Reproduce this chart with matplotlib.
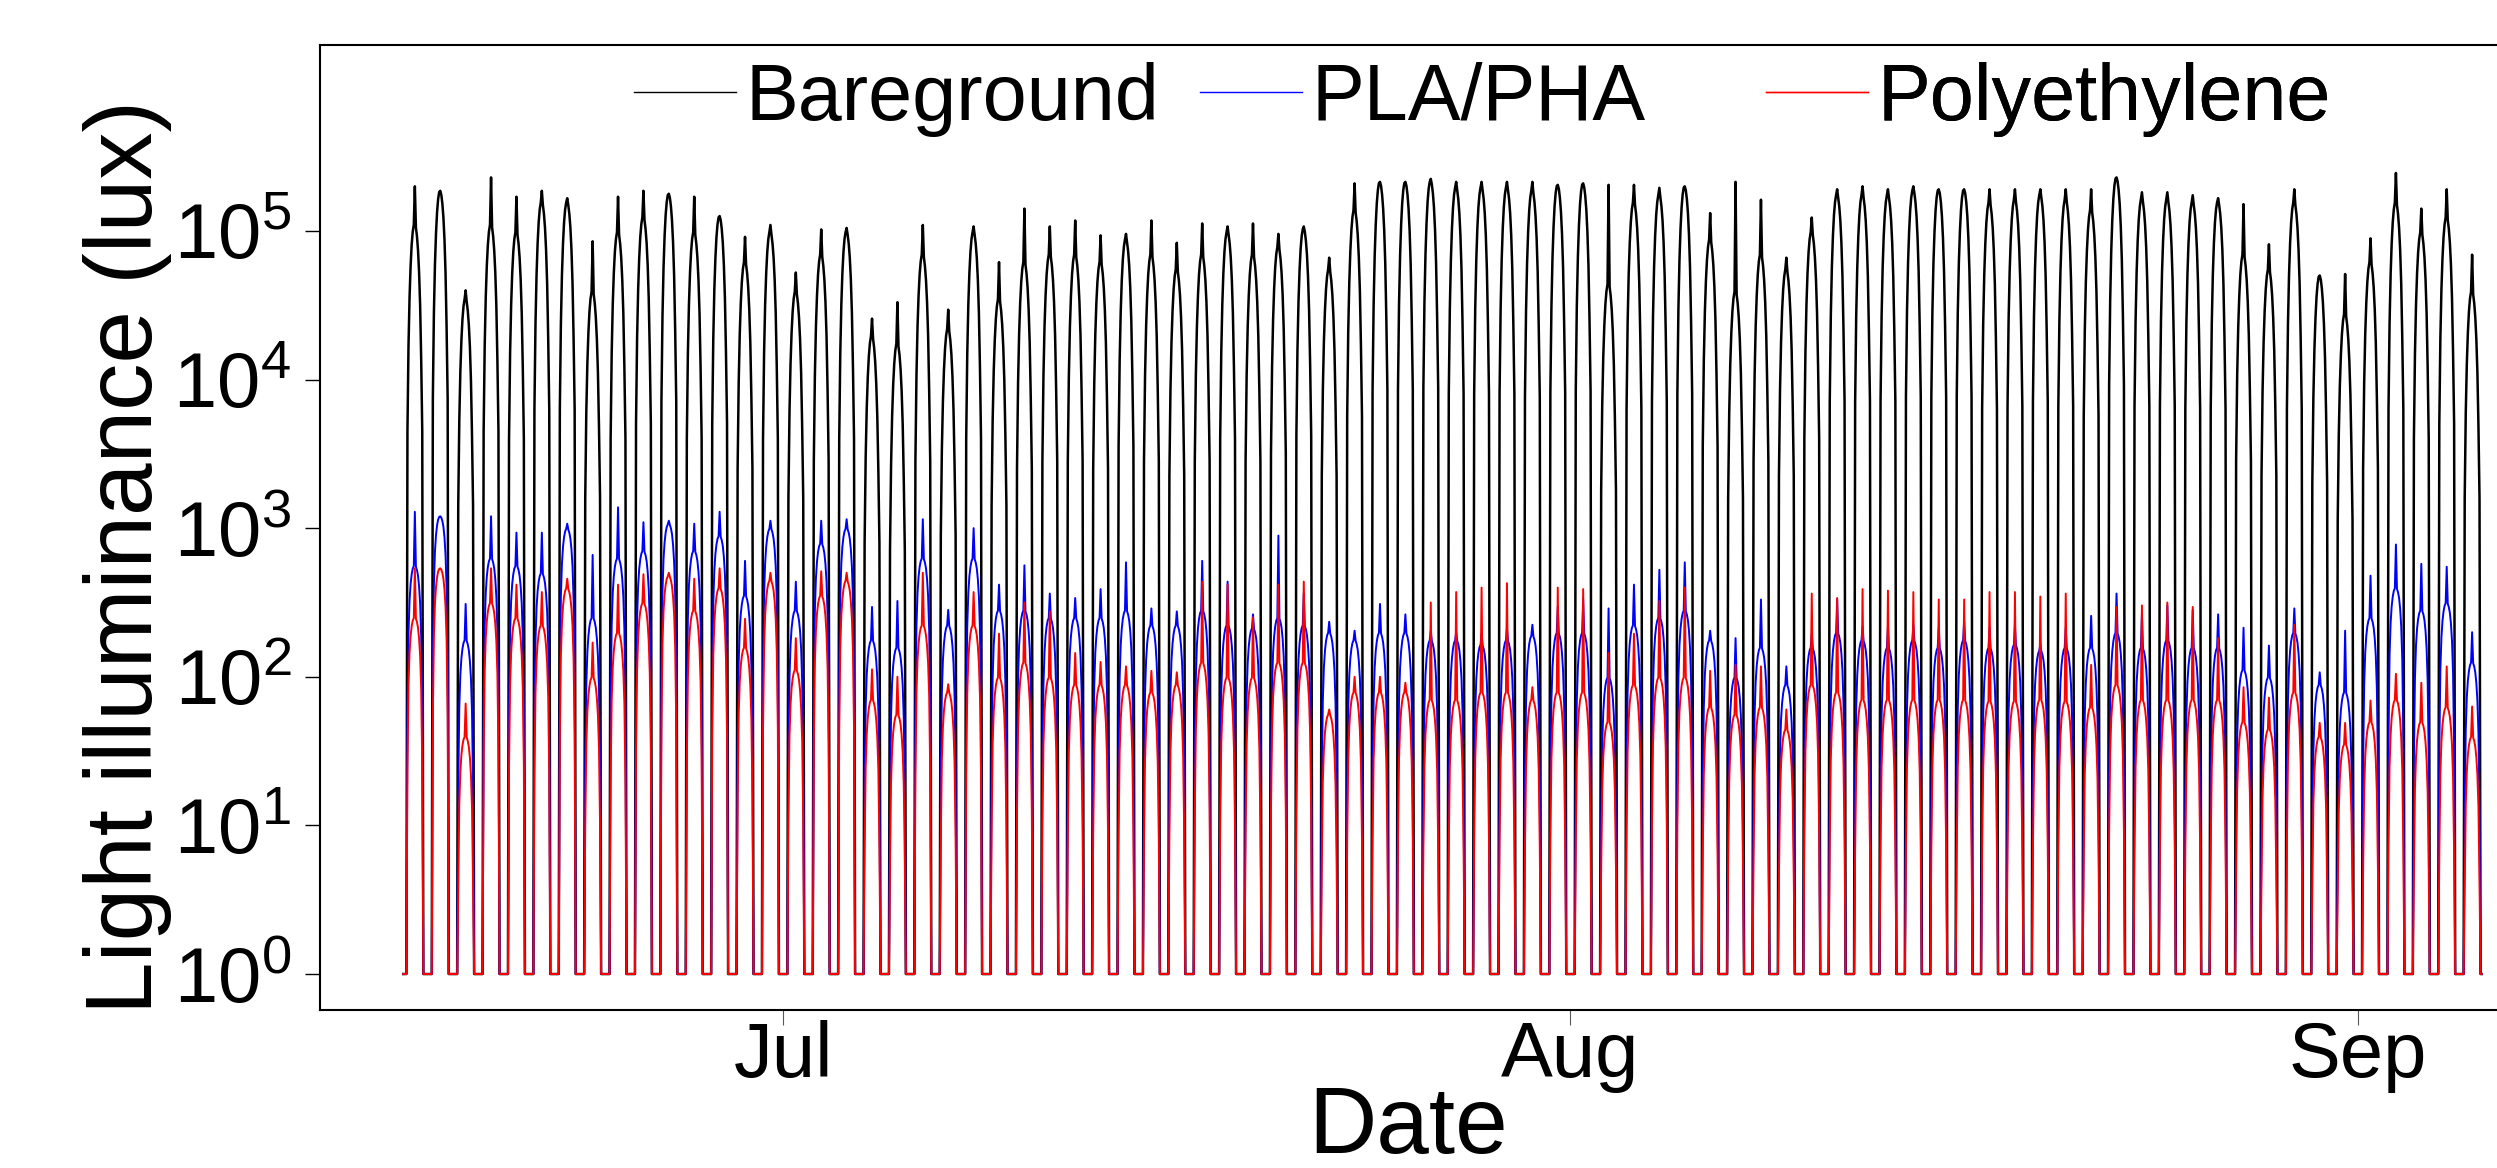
import numpy as np
import pandas as pd
import matplotlib
matplotlib.use('Agg')
import matplotlib.pyplot as plt
import matplotlib.dates as mdates
from matplotlib.ticker import NullLocator

plt.rcParams['font.family'] = ['Liberation Sans', 'DejaVu Sans']
plt.rcParams['mathtext.fontset'] = 'custom'
plt.rcParams['mathtext.rm'] = 'Liberation Sans'
plt.rcParams['axes.linewidth'] = 1.5

first_day = '2019-06-16'
n_days = 82

# log10(lux): spike maximum and typical noon level of every day, Jun 16 - Sep 5
bare_peak = [5.30, 5.27, 4.60, 5.36, 5.23, 5.27, 5.22, 4.93, 5.23, 5.27,
             5.25, 5.23, 5.10, 4.96, 5.04, 4.72, 5.01, 5.02, 4.41, 4.52,
             5.04, 4.47, 5.03, 4.79, 5.15, 5.03, 5.07, 4.97, 4.98, 5.07,
             4.92, 5.05, 5.03, 5.05, 4.98, 5.03, 4.82, 5.32, 5.33, 5.33,
             5.35, 5.33, 5.33, 5.33, 5.33, 5.31, 5.32, 5.31, 5.31, 5.29,
             5.30, 5.12, 5.33, 5.21, 4.82, 5.09, 5.28, 5.30, 5.28, 5.30,
             5.28, 5.28, 5.28, 5.28, 5.28, 5.28, 5.28, 5.36, 5.26, 5.26,
             5.24, 5.22, 5.18, 4.91, 5.28, 4.70, 4.71, 4.95, 5.39, 5.15,
             5.28, 4.84]
bare_level = [5.05, 5.27, 4.55, 5.05, 5.00, 5.20, 5.20, 4.60, 5.00, 5.10,
              5.25, 5.00, 5.10, 4.80, 5.00, 4.60, 4.85, 5.00, 4.30, 4.25,
              4.85, 4.35, 5.00, 4.55, 4.80, 4.85, 4.85, 4.80, 4.95, 4.85,
              4.75, 4.85, 5.00, 4.85, 4.90, 5.02, 4.75, 5.15, 5.33, 5.33,
              5.34, 5.30, 5.30, 5.30, 5.28, 5.31, 5.32, 4.65, 5.20, 5.25,
              5.30, 4.95, 4.60, 4.85, 4.75, 5.00, 5.25, 5.25, 5.25, 5.28,
              5.28, 5.28, 5.20, 5.22, 5.25, 5.22, 5.15, 5.36, 5.22, 5.22,
              5.20, 5.20, 4.85, 4.75, 5.20, 4.70, 4.45, 4.80, 5.20, 5.00,
              5.10, 4.60]

pla_peak = [3.11, 3.08, 2.49, 3.08, 2.97, 2.97, 3.03, 2.82, 3.14, 3.04,
            3.05, 3.03, 3.11, 2.78, 3.05, 2.64, 3.05, 3.06, 2.47, 2.51,
            3.06, 2.45, 3.00, 2.62, 2.75, 2.56, 2.53, 2.59, 2.77, 2.46,
            2.44, 2.78, 2.64, 2.42, 2.95, 2.56, 2.37, 2.31, 2.49, 2.42,
            2.31, 2.30, 2.29, 2.33, 2.35, 2.47, 2.52, 2.46, 2.62, 2.72,
            2.77, 2.31, 2.26, 2.52, 2.07, 2.29, 2.52, 2.34, 2.34, 2.35,
            2.33, 2.38, 2.33, 2.35, 2.22, 2.33, 2.41, 2.56, 2.42, 2.48,
            2.45, 2.42, 2.33, 2.21, 2.46, 2.03, 2.31, 2.68, 2.89, 2.76,
            2.74, 2.30]
pla_level = [2.75, 3.08, 2.25, 2.80, 2.75, 2.70, 3.00, 2.40, 2.80, 2.85,
             3.03, 2.85, 2.95, 2.55, 3.00, 2.45, 2.90, 3.00, 2.25, 2.20,
             2.80, 2.35, 2.80, 2.45, 2.45, 2.40, 2.40, 2.40, 2.45, 2.35,
             2.35, 2.45, 2.35, 2.33, 2.40, 2.35, 2.30, 2.25, 2.30, 2.30,
             2.25, 2.25, 2.22, 2.25, 2.28, 2.30, 2.30, 2.00, 2.35, 2.40,
             2.45, 2.25, 2.00, 2.20, 1.95, 2.20, 2.30, 2.25, 2.20, 2.25,
             2.20, 2.25, 2.20, 2.22, 2.18, 2.20, 2.20, 2.30, 2.20, 2.25,
             2.20, 2.20, 2.05, 2.00, 2.30, 1.95, 1.90, 2.40, 2.60, 2.45,
             2.50, 2.10]

pe_peak = [2.73, 2.73, 1.82, 2.73, 2.62, 2.57, 2.66, 2.23, 2.62, 2.69,
           2.70, 2.66, 2.73, 2.39, 2.70, 2.26, 2.71, 2.70, 2.05, 2.00,
           2.70, 1.95, 2.57, 2.29, 2.50, 2.44, 2.16, 2.10, 2.07, 2.04,
           2.03, 2.64, 2.62, 2.40, 2.62, 2.64, 1.78, 2.00, 2.00, 1.96,
           2.50, 2.57, 2.60, 2.63, 1.93, 2.60, 2.59, 2.16, 2.29, 2.51,
           2.60, 2.04, 2.08, 2.07, 1.78, 2.56, 2.53, 2.59, 2.58, 2.57,
           2.52, 2.52, 2.57, 2.57, 2.54, 2.56, 2.08, 2.47, 2.48, 2.50,
           2.47, 2.26, 1.93, 1.86, 2.35, 1.69, 1.69, 1.84, 2.02, 1.96,
           2.07, 1.80]
pe_level = [2.40, 2.73, 1.60, 2.50, 2.40, 2.35, 2.60, 2.00, 2.30, 2.50,
            2.68, 2.45, 2.60, 2.20, 2.65, 2.05, 2.55, 2.65, 1.85, 1.75,
            2.35, 1.90, 2.35, 2.00, 2.10, 2.00, 1.95, 1.95, 1.95, 1.90,
            1.95, 2.10, 2.00, 2.00, 2.10, 2.10, 1.75, 1.90, 1.90, 1.90,
            1.85, 1.85, 1.90, 1.90, 1.85, 1.90, 1.90, 1.70, 1.95, 2.00,
            2.00, 1.80, 1.75, 1.80, 1.65, 1.95, 1.90, 1.85, 1.85, 1.85,
            1.85, 1.85, 1.84, 1.84, 1.85, 1.84, 1.80, 1.95, 1.85, 1.85,
            1.85, 1.85, 1.70, 1.65, 1.90, 1.60, 1.55, 1.70, 1.85, 1.70,
            1.80, 1.60]

# share of the noon level at each hour 0..23 (open ground / under film)
bare_shape = [0, 0, 0, 0, 0, 0.04, 0.15, 0.32, 0.52, 0.72, 0.88, 0.98,
              1.0, 0.94, 0.82, 0.66, 0.47, 0.28, 0.12, 0.04, 0, 0, 0, 0]
film_shape = [0, 0, 0, 0, 0, 0.10, 0.35, 0.58, 0.75, 0.87, 0.95, 0.99,
              1.0, 0.98, 0.93, 0.85, 0.72, 0.55, 0.33, 0.10, 0, 0, 0, 0]

labels = ['Bareground', 'PLA/PHA', 'Polyethylene']
colors = ['black', 'blue', 'red']


def hourly(peak, level, shape):
    v = np.outer(10.0**np.array(level), shape)
    v[:, 12] = np.maximum(v[:, 12], 10.0**np.array(peak))
    v = np.maximum(v, 1.0).ravel()
    return v[1:-2]


times = pd.date_range(first_day, periods=n_days*24, freq='h')[1:-2]
series = [hourly(bare_peak, bare_level, bare_shape),
          hourly(pla_peak, pla_level, film_shape),
          hourly(pe_peak, pe_level, film_shape)]

fig = plt.figure(figsize=(24.97, 11.68), dpi=100)
ax = fig.add_axes([0.1282, 0.1349, 0.8718, 0.8262])

lines = []
for y, c, lab, lw in zip(series, colors, labels, [1.8, 1.4, 1.4]):
    l, = ax.plot(times, y, color=c, lw=lw, label=lab)
    lines.append(l)

ax.set_yscale('log')
ax.set_ylim(10**-0.245, 10**6.248)
ax.set_yticks([1, 10, 100, 1e3, 1e4, 1e5])
ax.yaxis.set_minor_locator(NullLocator())

jul1 = pd.Timestamp('2019-07-01')
ax.set_xlim(jul1 - pd.Timedelta(days=18.23), jul1 + pd.Timedelta(days=67.48))
ax.xaxis.set_major_locator(mdates.MonthLocator())
ax.xaxis.set_major_formatter(mdates.DateFormatter('%b'))
ax.xaxis.set_minor_locator(NullLocator())

ax.spines['right'].set_visible(False)
ax.tick_params(axis='y', labelsize=56, length=10.8, width=1.0, pad=10)
ax.tick_params(axis='x', labelsize=56, length=10.8, width=0.8, color='0.35', pad=-4)

ax.set_ylabel('Light illuminance (lux)', fontsize=68)
ax.yaxis.set_label_coords(-0.068, 0.47)
ax.set_xlabel('Date', fontsize=68, va='top')
ax.xaxis.set_label_coords(0.5, -0.076)

for l, x0 in zip(lines, [0.1442, 0.4042, 0.6642]):
    leg = ax.legend(handles=[l], loc='center left', bbox_to_anchor=(x0, 0.944),
                    frameon=False, fontsize=57, handlelength=1.29,
                    handletextpad=0.12, borderpad=0, borderaxespad=0)
    for h in leg.get_lines():
        h.set_linewidth(1.0)
    ax.add_artist(leg)

plt.savefig('out.png', dpi=100)
